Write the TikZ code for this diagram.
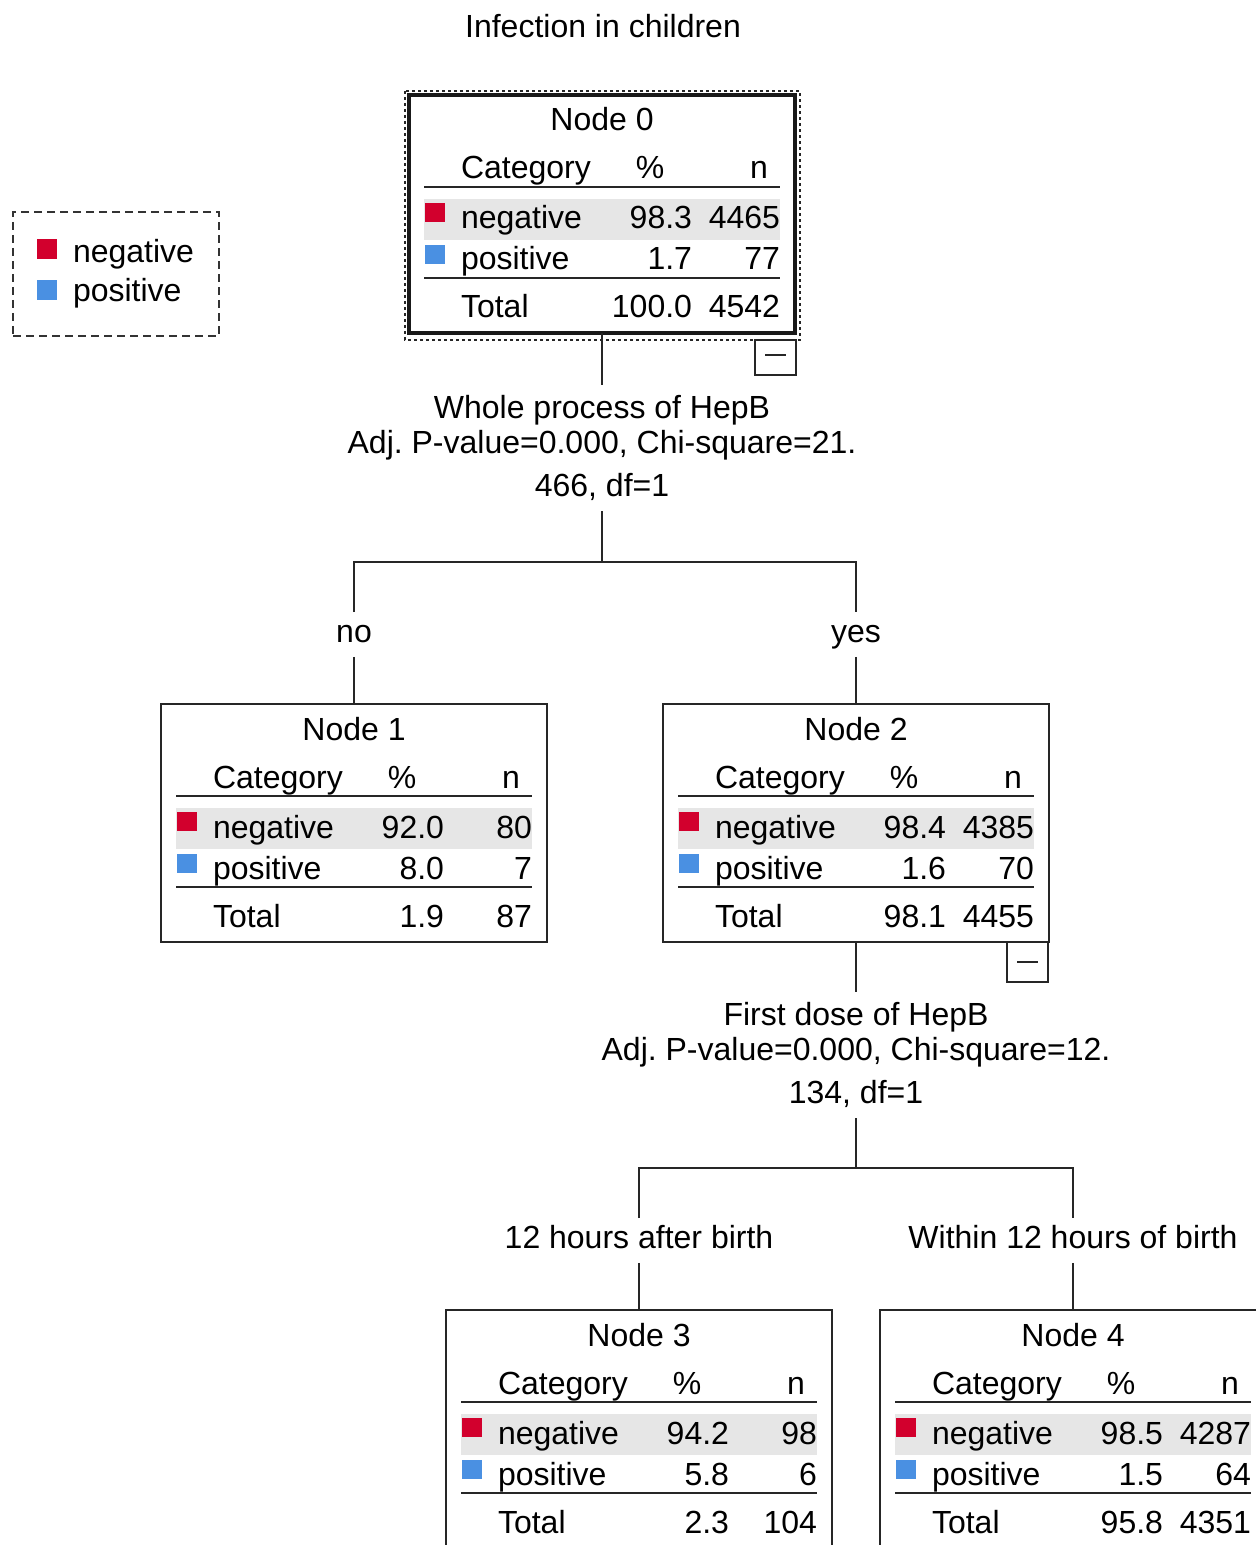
\documentclass[tikz,border=0pt]{standalone}
\usepackage{fontspec}
\setmainfont{Liberation Sans}
\frenchspacing
\definecolor{negc}{RGB}{210,0,45}
\definecolor{posc}{RGB}{74,144,226}
\definecolor{bandc}{RGB}{230,230,230}
\tikzset{
  txt/.style={inner sep=0pt, outer sep=0pt},
  boxnode/.style={draw=black!85, line width=1pt, inner sep=0pt, outer sep=0pt,
    minimum width=193pt, minimum height=119pt, anchor=north west},
  rule/.style={draw=black!85, line width=0.8pt},
  conn/.style={draw=black!85, line width=0.8pt},
  splitlbl/.style={align=center, inner sep=5pt, anchor=north},
  edgelbl/.style={inner sep=3pt, text height=12pt, text depth=4pt, anchor=north},
  legbox/.style={draw=black!80, line width=0.8pt, dash pattern=on 4pt off 2.5pt,
    inner sep=0pt, outer sep=0pt, minimum width=103pt, minimum height=62pt, anchor=north west},
  collapse/.style={draw=black!85, line width=0.8pt}
}
\newcommand{\treebox}[9]{%
  \begin{scope}[shift={#2}]
    \node[boxnode] (#1) at (0,0) {};
    \fill[bandc] (15,104) rectangle (371,145);
    \draw[rule] (15,92) -- (371,92);
    \draw[rule] (15,183) -- (371,183);
    \fill[negc] (16,108) rectangle (36,127);
    \fill[posc] (16,150) rectangle (36,169);
    \node[txt, anchor=base] at (193,36) {#3};
    \node[txt, anchor=base west] at (52,84) {Category};
    \node[txt, anchor=base] at (241,84) {\%};
    \node[txt, anchor=base east] at (359,84) {n};
    \node[txt, anchor=base west] at (52,134) {negative};
    \node[txt, anchor=base east] at (283,134) {#4};
    \node[txt, anchor=base east] at (371,134) {#5};
    \node[txt, anchor=base west] at (52,175) {positive};
    \node[txt, anchor=base east] at (283,175) {#6};
    \node[txt, anchor=base east] at (371,175) {#7};
    \node[txt, anchor=base west] at (52,223) {Total};
    \node[txt, anchor=base east] at (283,223) {#8};
    \node[txt, anchor=base east] at (371,223) {#9};
  \end{scope}}
\begin{document}
\begin{tikzpicture}[x=0.5pt, y=-0.5pt, font=\fontsize{16}{17.25}\selectfont]
\useasboundingbox (0,0) rectangle (1256,1545);
\clip (0,0) rectangle (1256,1545);

% title
\node[txt, anchor=base] (title) at (603,38) {Infection in children};

% legend
\node[legbox] (leg) at (13,212) {};
\fill[negc] (37,239) rectangle (57,259);
\node[txt, anchor=base west] (legneg) at (73,263) {negative};
\fill[posc] (37,280) rectangle (57,300);
\node[txt, anchor=base west] (legpos) at (73,302) {positive};

% tree nodes
\treebox{n0}{(409,95)}{Node 0}{98.3}{4465}{1.7}{77}{100.0}{4542}
\draw[black!90, line width=1.8pt] (n0.north west) rectangle (n0.south east);
\draw[black!85, line width=0.8pt, dash pattern=on 1.5pt off 1.5pt] (405,91) rectangle (800,340);
\draw[collapse] (755,340) rectangle (796,375);
\draw[collapse] (765,355) -- (786,355);

\treebox{n1}{(161,704)}{Node 1}{92.0}{80}{8.0}{7}{1.9}{87}
\treebox{n2}{(663,704)}{Node 2}{98.4}{4385}{1.6}{70}{98.1}{4455}
\draw[collapse] (1007,942) rectangle (1048,982);
\draw[collapse] (1017,962) -- (1038,962);

\treebox{n3}{(446,1310)}{Node 3}{94.2}{98}{5.8}{6}{2.3}{104}
\treebox{n4}{(880,1310)}{Node 4}{98.5}{4287}{1.5}{64}{95.8}{4351}

% first split
\node[splitlbl] (s0) at (602,385) {Whole process of HepB\\Adj. P-value=0.000, Chi-square=21.\\[4.5pt]466, df=1};
\coordinate (j0) at (602,562);
\node[edgelbl] (lno) at (354,612) {no};
\node[edgelbl] (lyes) at (856,612) {yes};
\draw[conn] (n0.south) -- (s0.north);
\draw[conn] (s0.south) -- (j0);
\draw[conn] (lno.north) |- (j0) -| (lyes.north);
\draw[conn] (lno.south) -- (n1.north);
\draw[conn] (lyes.south) -- (n2.north);

% second split
\node[splitlbl] (s2) at (856,992) {First dose of HepB\\Adj. P-value=0.000, Chi-square=12.\\[4.5pt]134, df=1};
\coordinate (j2) at (856,1168);
\node[edgelbl] (lafter) at (639,1218) {12 hours after birth};
\node[edgelbl] (lwithin) at (1073,1218) {Within 12 hours of birth};
\draw[conn] (n2.south) -- (s2.north);
\draw[conn] (s2.south) -- (j2);
\draw[conn] (lafter.north) |- (j2) -| (lwithin.north);
\draw[conn] (lafter.south) -- (n3.north);
\draw[conn] (lwithin.south) -- (n4.north);
\end{tikzpicture}
\end{document}
